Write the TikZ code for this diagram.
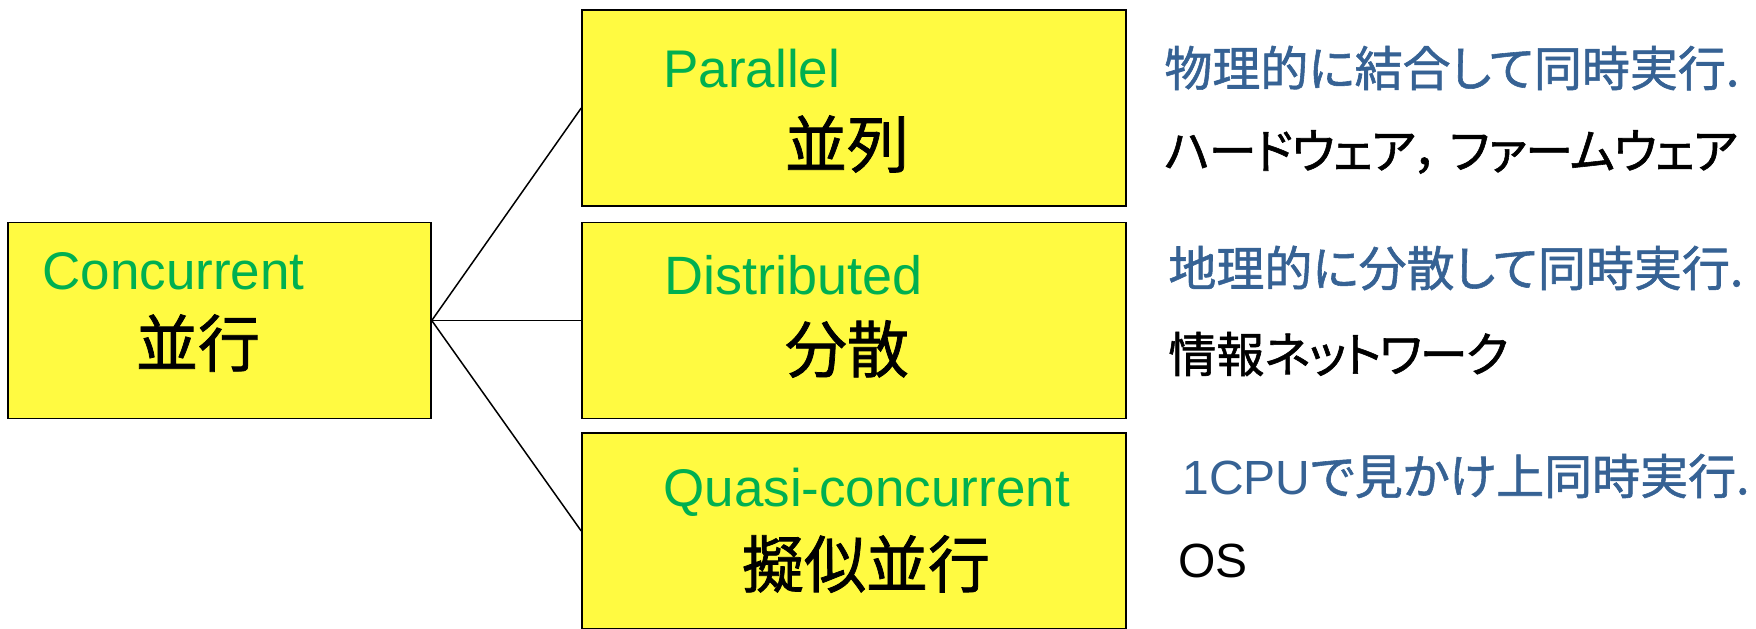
\documentclass[tikz,border=0pt]{standalone}
\usepackage{graphicx}
\usepackage{fontspec}
\setmainfont{Liberation Sans}
\newfontfamily\jpfont[RawFeature=+palt,FakeBold=1.2]{Noto Sans CJK JP}
\definecolor{boxyellow}{RGB}{255,250,65}
\definecolor{engreen}{RGB}{0,176,80}
\definecolor{noteblue}{RGB}{54,98,148}
\begin{document}
\begin{tikzpicture}[x=0.5pt,y=-0.5pt,
  box/.style={draw=black,line width=0.75pt,fill=boxyellow,inner sep=0pt,minimum width=272pt,minimum height=98pt},
  en/.style={text=engreen,font=\fontsize{26.5pt}{30pt}\selectfont,anchor=base west,inner sep=0pt},
  jbig/.style={font=\jpfont\fontsize{31pt}{34pt}\selectfont,anchor=center,inner sep=0pt},
  note/.style={text=noteblue,font=\jpfont\fontsize{24pt}{28pt}\selectfont,anchor=west,inner sep=0pt},
  sub/.style={text=black,font=\jpfont\fontsize{24pt}{28pt}\selectfont,anchor=west,inner sep=0pt},
  link/.style={draw=black,line width=0.75pt}]
\useasboundingbox (0,0) rectangle (1756,628);
\node[box,minimum width=211.5pt] (conc) at (219.5,320.5) {};
\node[box] (par) at (854,108) {};
\node[box] (dist) at (854,320.5) {};
\node[box] (quasi) at (854,531) {};
\draw[link] (conc.east) -- (par.west);
\draw[link] (conc.east) -- (dist.west);
\draw[link] (conc.east) -- (quasi.west);
\node[en] (concen) at (42,289) {Concurrent};
\node[jbig] (concjp) at (198,343) {並行};
\node[en] (paren) at (663,87) {Parallel};
\node[jbig] (parjp) at (847,144) {並列};
\node[en,font=\fontsize{27pt}{30pt}\selectfont] (disten) at (664,294) {Distributed};
\node[jbig] (distjp) at (847,349) {分散};
\node[en] (quasien) at (663,506) {Quasi-concurrent};
\node[jbig] (quasijp) at (866,564) {擬似並行};
\node[note] (n1) at (1164,68) {物理的に結合して同時実行.};
\node[sub] (s1) at (1164,152) {{\addfontfeature{LetterSpace=-3}ハードウェア}，\hspace{0.2em}{\addfontfeature{LetterSpace=-3}ファームウェア}};
\node[note] (n2) at (1168,268) {地理的に分散して同時実行.};
\node[sub] (s2) at (1168,354) {情報{\addfontfeature{LetterSpace=-4}ネットワーク}};
\node[note] (n3) at (1182,476) {{\fontspec{Liberation Sans}1CPU}で見かけ上同時実行.};
\node[sub,font=\fontsize{24pt}{28pt}\selectfont] (s3) at (1178,561) {OS};
\end{tikzpicture}
\end{document}
